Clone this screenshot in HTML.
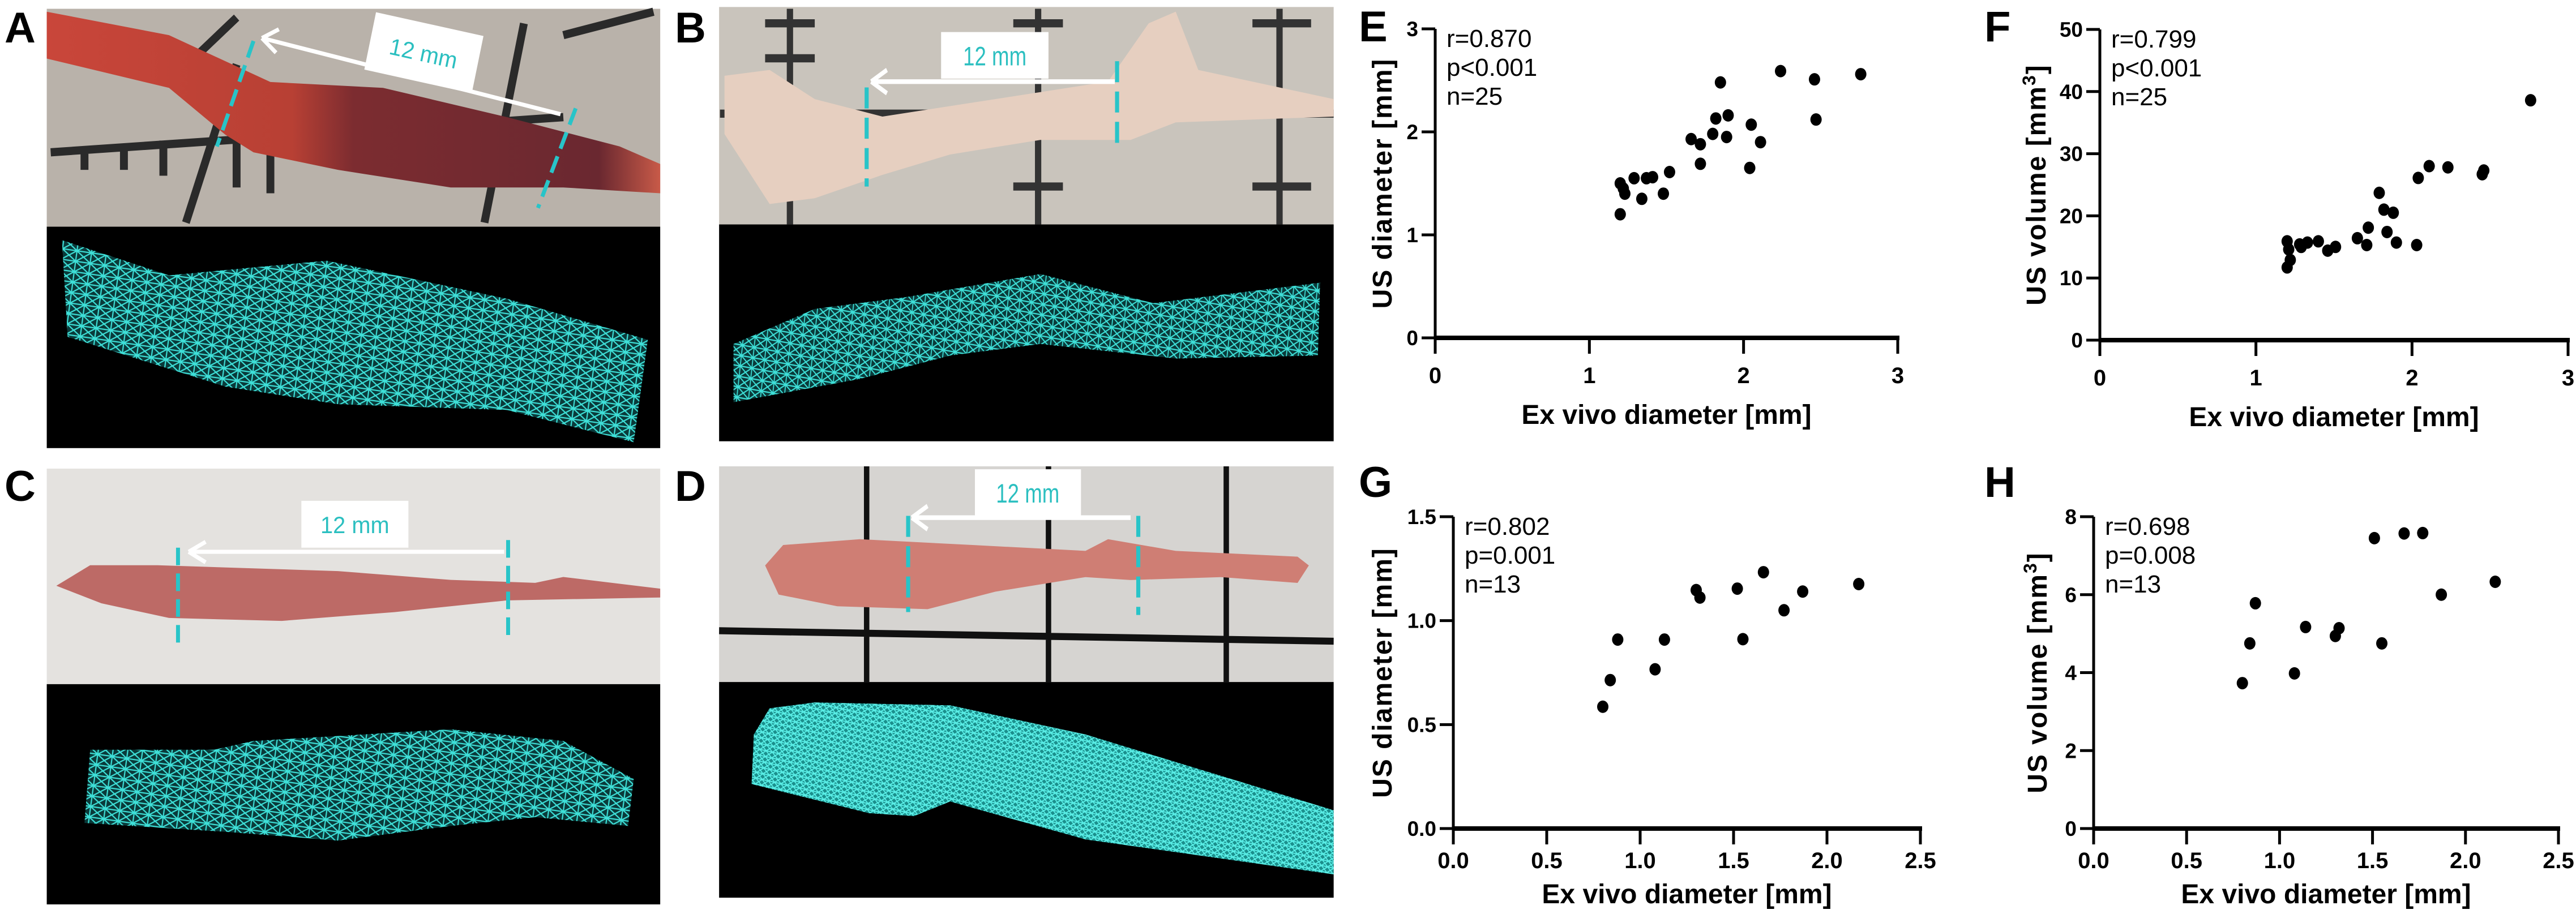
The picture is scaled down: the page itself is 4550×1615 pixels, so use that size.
<!DOCTYPE html>
<html><head><meta charset="utf-8">
<style>
html,body{margin:0;padding:0;background:#fff;}
svg{display:block;}
text{font-family:"Liberation Sans",Arial,sans-serif;}
</style></head>
<body>
<svg id="fig" xmlns="http://www.w3.org/2000/svg" width="4550" height="1615" viewBox="0 0 4550 1615">
<defs>
  <pattern id="mesh" width="26" height="18" patternUnits="userSpaceOnUse" patternTransform="rotate(8)">
    <rect width="26" height="18" fill="#0a3a3a"/>
    <path d="M0 0L26 18M26 0L0 18M0 9H26M13 0V18" stroke="#3ee0d8" stroke-width="2.2"/>
  </pattern>
  <pattern id="meshd" width="14" height="10" patternUnits="userSpaceOnUse" patternTransform="rotate(10)">
    <rect width="14" height="10" fill="#1b8f8c"/>
    <path d="M0 0L14 10M14 0L0 10M0 5H14" stroke="#5af0e8" stroke-width="2"/>
  </pattern>
  <linearGradient id="vesA" x1="0" x2="1">
    <stop offset="0" stop-color="#c9463a"/><stop offset="0.4" stop-color="#b84034"/><stop offset="0.5" stop-color="#7c2c30"/><stop offset="0.9" stop-color="#6a2830"/><stop offset="1" stop-color="#c85a48"/>
  </linearGradient>
</defs>

<!-- Panel A (zoom3 coords) -->
<g transform="scale(0.995,1.035)">
  <rect x="83" y="15" width="1089" height="372" fill="#b9b2aa"/>
  <g stroke="#2a2a2a" stroke-width="14" fill="none">
    <path d="M90 260L1000 200M300 140L420 30M330 380L420 110M860 380L930 40M1000 60L1160 20M150 250V290M220 250V290M290 240V300M420 230V320M480 230V330"/>
  </g>
  <path d="M83 20L300 60L480 140L680 150L900 200L1100 250L1172 280L1172 330L1000 320L800 320L600 290L450 260L400 230L300 150L83 100Z" fill="url(#vesA)"/>
  <path d="M995 195L465 65M465 65L495 50M465 65L490 90" stroke="#fff" stroke-width="7" fill="none"/>
  <rect x="655" y="40" width="195" height="100" fill="#fff" transform="rotate(12 752 90)"/>
  <text x="752" y="105" font-size="40" fill="#2bbfc0" text-anchor="middle" transform="rotate(12 752 90)">12 mm</text>
  <path d="M450 70L385 250" stroke="#28c4c8" stroke-width="7" stroke-dasharray="30 14"/>
  <path d="M1022 185L955 355" stroke="#28c4c8" stroke-width="7" stroke-dasharray="30 14"/>
  <rect x="83" y="387" width="1089" height="378" fill="#000"/>
  <path d="M110 410L300 470L580 445L900 510L1150 580L1125 755L900 700L600 690L400 660L120 575Z" fill="url(#mesh)"/>

  <!-- Panel C -->
  <rect x="83" y="800" width="1089" height="368" fill="#e4e2df"/>
  <path d="M100 1000L160 965L280 965L600 975L800 990L950 995L1000 985L1172 1005L1172 1020L900 1025L700 1045L500 1060L300 1055L180 1030Z" fill="#bd6a66"/>
  <path d="M895 942L335 942M335 942L365 925M335 942L365 960" stroke="#fff" stroke-width="7" fill="none"/>
  <rect x="535" y="855" width="190" height="80" fill="#fff"/>
  <text x="630" y="910" font-size="40" fill="#2bbfc0" text-anchor="middle">12 mm</text>
  <path d="M316 935V1110" stroke="#28c4c8" stroke-width="7" stroke-dasharray="30 14"/>
  <path d="M902 922V1095" stroke="#28c4c8" stroke-width="7" stroke-dasharray="30 14"/>
  <rect x="83" y="1168" width="1089" height="376" fill="#000"/>
  <path d="M160 1280L380 1280L450 1265L800 1245L1000 1265L1125 1330L1115 1410L950 1395L800 1410L600 1435L400 1420L150 1405Z" fill="url(#mesh)"/>
</g>

<!-- Panels B & D (zoom4 coords) -->
<g transform="translate(1200,0) scale(0.797,1.03)">
  <rect x="88" y="12" width="1362" height="373" fill="#c9c4bc"/>
  <g stroke="#333" stroke-width="14" fill="none">
    <path d="M245 15V385M795 15V385M1330 15V385M90 195H1450M190 40H300M190 100H300M190 260H290M190 320H290M740 40H850M740 320H850M1270 40H1400M1270 320H1400"/>
  </g>
  <path d="M100 130L200 120L300 170L450 200L700 170L950 140L1040 40L1100 20L1150 120L1450 170L1450 200L1100 210L1000 240L800 240L600 265L450 300L300 340L200 350L100 230Z" fill="#e6cfc0"/>
  <path d="M965 140L425 140M425 140L460 120M425 140L460 160" stroke="#fff" stroke-width="8" fill="none"/>
  <rect x="580" y="55" width="238" height="80" fill="#fff"/>
  <text x="699" y="112" font-size="46" fill="#2bbfc0" text-anchor="middle">12 mm</text>
  <path d="M415 150V320" stroke="#28c4c8" stroke-width="9" stroke-dasharray="36 16"/>
  <path d="M970 105V245" stroke="#28c4c8" stroke-width="9" stroke-dasharray="36 16"/>
  <rect x="88" y="385" width="1362" height="372" fill="#000"/>
  <path d="M120 590L300 530L500 510L800 470L1050 520L1420 485L1415 610L1100 615L800 590L600 610L400 650L120 690Z" fill="url(#mesh)"/>

  <rect x="88" y="800" width="1362" height="370" fill="#d6d4d1"/>
  <g stroke="#111" stroke-width="12">
    <path d="M415 800V1170M818 800V1170M1212 800V1170M88 1082L1450 1100"/>
  </g>
  <path d="M190 970L230 935L400 925L650 935L900 945L950 925L1100 945L1370 955L1395 970L1370 1000L1200 990L1000 995L900 990L700 1015L550 1045L350 1040L220 1020Z" fill="#cf7e74"/>
  <path d="M1000 888L515 888M515 888L550 868M515 888L550 908" stroke="#fff" stroke-width="8" fill="none"/>
  <rect x="655" y="805" width="235" height="80" fill="#fff"/>
  <text x="772" y="862" font-size="46" fill="#2bbfc0" text-anchor="middle">12 mm</text>
  <path d="M507 885V1050" stroke="#28c4c8" stroke-width="9" stroke-dasharray="36 16"/>
  <path d="M1017 885V1055" stroke="#28c4c8" stroke-width="9" stroke-dasharray="36 16"/>
  <rect x="88" y="1170" width="1362" height="370" fill="#000"/>
  <path d="M165 1260L200 1215L300 1205L600 1210L900 1260L1450 1390L1450 1500L900 1440L600 1375L520 1400L420 1395L160 1345Z" fill="url(#meshd)"/>
</g>

<g font-weight="bold" font-size="76" fill="#000">
  <text x="8" y="75">A</text>
  <text x="1192" y="75">B</text>
  <text x="8" y="885">C</text>
  <text x="1192" y="885">D</text>
  <text x="2400" y="73">E</text>
  <text x="3505" y="73">F</text>
  <text x="2400" y="878">G</text>
  <text x="3505" y="878">H</text>
</g>
<g id="charts"></g>
</svg>
<script>
const eX = [1.20,1.23,1.20,1.22,1.29,1.34,1.37,1.41,1.48,1.52,1.66,1.72,1.72,1.80,1.82,1.85,1.89,1.90,2.04,2.05,2.11,2.24,2.46,2.47,2.76];
const eY = [1.50,1.40,1.20,1.45,1.55,1.35,1.55,1.56,1.40,1.61,1.93,1.88,1.69,1.98,2.13,2.48,1.95,2.16,1.65,2.07,1.90,2.59,2.51,2.12,2.56];
const fX = [1.20,1.22,1.20,1.21,1.29,1.28,1.33,1.40,1.46,1.51,1.65,1.71,1.72,1.79,1.82,1.84,1.88,1.90,2.03,2.04,2.11,2.23,2.45,2.46,2.76];
const fY = [11.7,12.9,15.9,14.6,15.0,15.4,15.7,15.9,14.4,15.0,16.4,15.3,18.1,23.7,21.0,17.4,20.5,15.7,15.3,26.1,28.0,27.8,26.7,27.3,38.6];
const gX = [0.80,0.84,0.88,1.08,1.13,1.30,1.32,1.52,1.55,1.66,1.77,1.87,2.17];
const gY = [0.586,0.714,0.909,0.766,0.909,1.147,1.111,1.154,0.911,1.233,1.05,1.14,1.176];
const hX = [0.80,0.84,0.87,1.08,1.14,1.30,1.32,1.51,1.55,1.67,1.77,1.87,2.16];
const hY = [3.73,4.75,5.78,3.98,5.17,4.94,5.14,7.45,4.75,7.57,7.58,6.00,6.33];
const xTicks3 = ["0","1","2","3"];
const xTicks25 = ["0.0","0.5","1.0","1.5","2.0","2.5"];
const yTicksE = ["0","1","2","3"];
const yTicksF = ["0","10","20","30","40","50"];
const yTicksG = ["0.0","0.5","1.0","1.5"];
const yTicksH = ["0","2","4","6","8"];
const statsE = ["r=0.870","p<0.001","n=25"];
const statsF = ["r=0.799","p<0.001","n=25"];
const statsG = ["r=0.802","p=0.001","n=13"];
const statsH = ["r=0.698","p=0.008","n=13"];

const NS = "http://www.w3.org/2000/svg";
const root = document.getElementById("charts");
function mk(tag, attrs, parent){ const e=document.createElementNS(NS,tag); for(const k in attrs) e.setAttribute(k,attrs[k]); parent.appendChild(e); return e; }

function chart(cfg){
  const g = mk("g",{},root);
  
  
  const xmax = parseFloat(cfg.xt[cfg.xt.length-1]), ymax = parseFloat(cfg.yt[cfg.yt.length-1]);
  const sx = v => cfg.x0 + (cfg.x1-cfg.x0)*v/xmax;
  const sy = v => cfg.y0 - (cfg.y0-cfg.y1)*v/ymax;
  const ya = mk("line",{x1:sx(0),x2:sx(0),y1:sy(ymax),y2:cfg.y0+28,stroke:"#000","stroke-width":5},g);
  
  
  cfg.yt.forEach(t=>{
    const v=parseFloat(t), y=sy(v);
    const tk = mk("line",{x1:sx(0)-24,x2:sx(0),y1:y,y2:y,stroke:"#000","stroke-width":5},g);
    
    
    const tl = mk("text",{x:sx(0)-30,y:y+13,"font-size":37,"font-weight":"bold","text-anchor":"end"},g);
    
    
    tl.textContent=t;
  });
  const xa = mk("line",{x1:sx(0)-2,x2:sx(xmax)+3,y1:cfg.y0,y2:cfg.y0,stroke:"#000","stroke-width":8},g);
  
  
  cfg.xt.forEach(t=>{
    const v=parseFloat(t), x=sx(v);
    const tk = mk("line",{x1:x,x2:x,y1:cfg.y0,y2:cfg.y0+28,stroke:"#000","stroke-width":5},g);
    
    
    const tl = mk("text",{x:x,y:cfg.y0+cfg.tkDy,"font-size":40,"font-weight":"bold","text-anchor":"middle"},g);
    
    
    tl.textContent=t;
  });
  const xt = mk("text",{x:(sx(0)+sx(xmax))/2,y:cfg.y0+cfg.ttDy,"font-size":48,"font-weight":"bold","text-anchor":"middle"},g);
  
  
  xt.textContent="Ex vivo diameter [mm]";
  const cy=(cfg.y0+sy(ymax))/2;
  const yt = mk("text",{x:cfg.tx,y:cy,"font-size":48,"font-weight":"bold","text-anchor":"middle",transform:`rotate(-90 ${cfg.tx} ${cy})`,dy:16,"letter-spacing":"2"},g);
  
  
  if(cfg.sup){ yt.textContent=cfg.ylab; const s=mk("tspan",{"font-size":32,dy:-18},yt); s.textContent="3"; const s2=mk("tspan",{dy:18},yt); s2.textContent="]"; }
  else yt.textContent=cfg.ylab;
  cfg.stats.forEach((s,i)=>{
    const t = mk("text",{x:sx(0)+20,y:sy(ymax)+32+i*51,"font-size":44},g);
    
    
    t.textContent=s;
  });
  cfg.xs.forEach((xv,i)=>{
    const c = mk("ellipse",{cx:sx(xv),cy:sy(cfg.ys[i]),rx:10,ry:11,fill:"#000"},g);
    
    
  });
}
chart({name:"chart-e",x0:2535,x1:3352,y0:597,y1:51,xt:xTicks3,yt:yTicksE,xs:eX,ys:eY,stats:statsE,ylab:"US diameter [mm]",tx:2442,tkDy:80,ttDy:152});
chart({name:"chart-f",x0:3709,x1:4536,y0:601,y1:52,xt:xTicks3,yt:yTicksF,xs:fX,ys:fY,stats:statsF,ylab:"US volume [mm",sup:true,tx:3597,tkDy:80,ttDy:152});
chart({name:"chart-g",x0:2567,x1:3392,y0:1464,y1:913,xt:xTicks25,yt:yTicksG,xs:gX,ys:gY,stats:statsG,ylab:"US diameter [mm]",tx:2442,tkDy:70,ttDy:132});
chart({name:"chart-h",x0:3698,x1:4519,y0:1464,y1:913,xt:xTicks25,yt:yTicksH,xs:hX,ys:hY,stats:statsH,ylab:"US volume [mm",sup:true,tx:3599,tkDy:70,ttDy:132});
</script>
</body></html>
